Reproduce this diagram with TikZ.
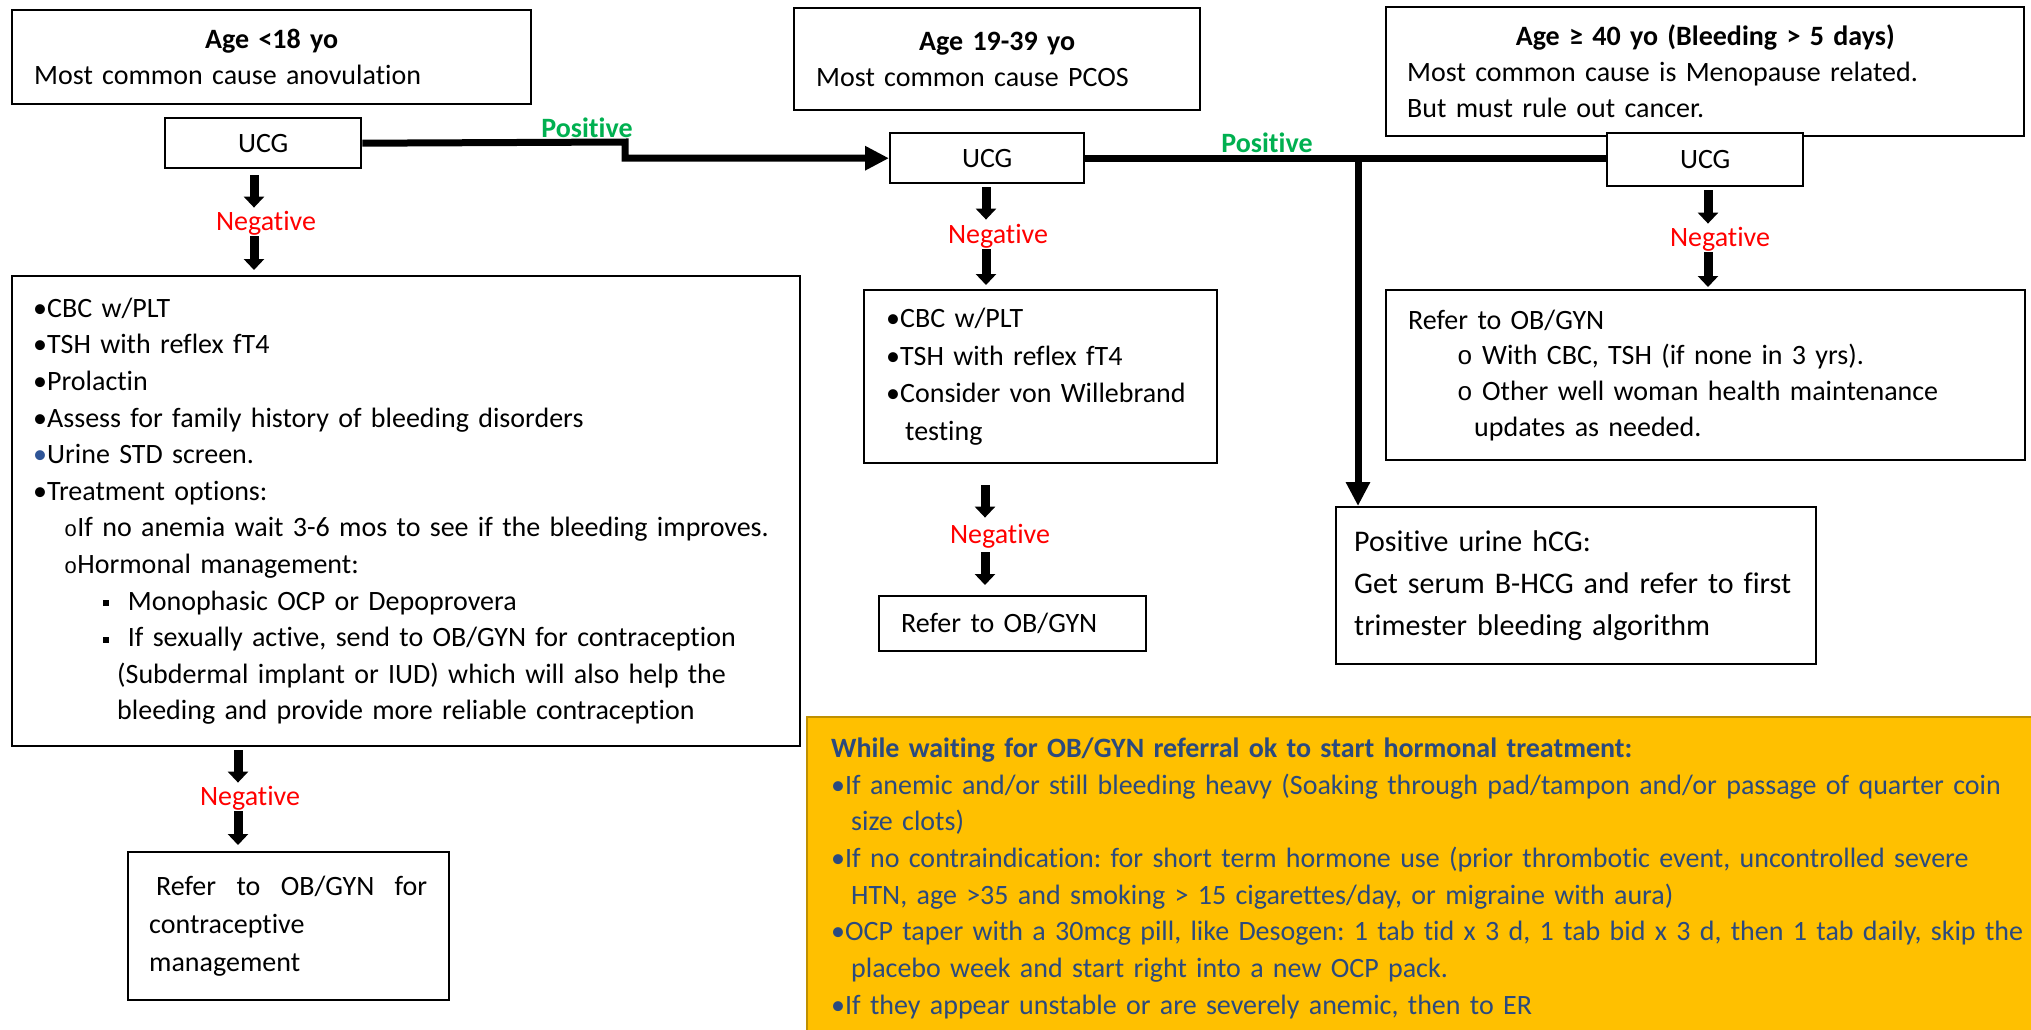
\documentclass[tikz,border=0pt]{standalone}
\usepackage{fontspec}
\setmainfont{Carlito}[Ligatures=NoCommon]
\newfontfamily\courierfont{Liberation Mono}
\usetikzlibrary{arrows.meta}
\frenchspacing

\definecolor{posgreen}{HTML}{00B050}
\definecolor{negred}{HTML}{FF0000}
\definecolor{waitgold}{HTML}{FFC000}
\definecolor{waitedge}{HTML}{BF9000}
\definecolor{waitblue}{HTML}{2B4A7E}
\definecolor{dotblue}{HTML}{2F5597}

\newcommand{\ringitem}[1]{{\courierfont\fontsize{#1}{#1}\selectfont o}}
\newcommand{\squareitem}{\rule[2pt]{3pt}{3pt}}

\begin{document}
\begin{tikzpicture}[x=0.5pt, y=-0.5pt,
    box/.style={draw, line width=1.2pt, inner sep=0pt, anchor=north west, align=left, font=\fontsize{14}{18}\selectfont},
    ucg node/.style={draw, fill=white, line width=1.2pt, anchor=north west, font=\fontsize{14}{18}\selectfont},
    neg label/.style={text=negred, inner sep=0pt, anchor=base, text height=10pt, text depth=3pt, font=\fontsize{14}{18}\selectfont},
    pos label/.style={text=posgreen, inner sep=0pt, font=\fontsize{14}{18}\selectfont\bfseries},
    neg arrow/.style={line width=4.5pt, -{Triangle[width=10pt, length=5.5pt]}},
    pos line/.style={line width=3.5pt},
    pos arrow/.style={line width=3.5pt, -{Triangle[width=11.5pt, length=12pt]}}]

    \useasboundingbox (0, 0) rectangle (2031, 1029);
    \clip (0, 0) rectangle (2031, 1029);

    \node[box, minimum width=259.5pt, minimum height=47pt, text width=237.5pt] at (11, 9) (ageA) {\hfill\textbf{Age <18 yo}\hfill\null\\ Most common cause anovulation};
    \node[box, minimum width=203pt, minimum height=51pt, text width=181pt] at (793, 7) (ageB) {\hfill\textbf{Age 19-39 yo}\hfill\null\\ Most common cause PCOS};
    \node[box, minimum width=319pt, minimum height=64.5pt, text width=298pt] at (1385, 6) (ageC) {\hfill\textbf{Age ≥ 40 yo (Bleeding > 5 days)}\hfill\null\\ Most common cause is Menopause related.\\ But must rule out cancer.};

    \node[ucg node, minimum width=98pt, minimum height=25pt] at (164, 117) (ucgA) {UCG};
    \node[ucg node, minimum width=97pt, minimum height=25pt] at (889, 132) (ucgB) {UCG};
    \node[ucg node, minimum width=98pt, minimum height=26.5pt] at (1606, 132) (ucgC) {UCG};

    \node[box, minimum width=394pt, minimum height=235pt, text width=373pt, font=\fontsize{14}{18.3}\selectfont] at (11, 275) (listA) {•CBC w/PLT\\ •TSH with reflex fT4\\ •Prolactin\\ •Assess for family history of bleeding disorders\\ {\color{dotblue}•}Urine STD screen.\\ •Treatment options:\\ \hspace*{15.5pt}\ringitem{11}If no anemia wait 3-6 mos to see if the bleeding improves.\\ \hspace*{15.5pt}\ringitem{11}Hormonal management:\\ \hspace*{35pt}\squareitem\ \ Monophasic OCP or Depoprovera\\ \hspace*{35pt}\squareitem\ \ If sexually active, send to OB/GYN for contraception\\ \hspace*{42pt}(Subdermal implant or IUD) which will also help the\\ \hspace*{42pt}bleeding and provide more reliable contraception};
    \node[box, minimum width=176.5pt, minimum height=86.5pt, text width=154.5pt, font=\fontsize{14}{18.7}\selectfont] at (863, 289) (listB) {•CBC w/PLT\\ •TSH with reflex fT4\\ •Consider von Willebrand\\ \phantom{•}\hspace{2.5pt}testing};
    \node[box, minimum width=133.5pt, minimum height=27.5pt, text width=111.5pt] at (878, 595) (referB) {Refer to OB/GYN};
    \node[box, minimum width=319.5pt, minimum height=85pt, text width=297.5pt, font=\fontsize{14}{17.8}\selectfont] at (1385, 289) (referC) {Refer to OB/GYN\\ \hspace*{24.5pt}\ringitem{13} With CBC, TSH (if none in 3 yrs).\\ \hspace*{24.5pt}\ringitem{13} Other well woman health maintenance\\ \hspace*{33pt}updates as needed.};
    \node[box, minimum width=240pt, minimum height=78.5pt, text width=222pt, font=\fontsize{15}{21}\selectfont] at (1335, 506) (pregnant) {Positive urine hCG:\\ Get serum B-HCG and refer to first\\ trimester bleeding algorithm};
    \node[box, minimum width=160.5pt, minimum height=74pt, text width=139.5pt, font=\fontsize{14}{19}\selectfont] at (127, 851) (referA) {\hspace*{3.5pt}\makebox[135.5pt][l]{Refer\hfill to\hfill OB/GYN\hfill for}\\ contraceptive\\ management};
    \node[box, draw=waitedge, fill=waitgold, text=waitblue, minimum height=161pt, text width=640pt, inner xsep=12pt, font=\fontsize{14}{18.35}\selectfont] at (806, 716) (waiting) {\textbf{While waiting for OB/GYN referral ok to start hormonal treatment:}\\ •If anemic and/or still bleeding heavy (Soaking through pad/tampon and/or passage of quarter coin\\ \phantom{•}\hspace{3pt}size clots)\\ •If no contraindication: for short term hormone use (prior thrombotic event, uncontrolled severe\\ \phantom{•}\hspace{3pt}HTN, age >35 and smoking > 15 cigarettes/day, or migraine with aura)\\ •OCP taper with a 30mcg pill, like Desogen: 1 tab tid x 3 d, 1 tab bid x 3 d, then 1 tab daily, skip the\\ \phantom{•}\hspace{3pt}placebo week and start right into a new OCP pack.\\ •If they appear unstable or are severely anemic, then to ER};

    \node[neg label] at (266, 230) (negA) {Negative};
    \node[neg label] at (998, 243) (negB) {Negative};
    \node[neg label] at (1720, 246) (negC) {Negative};
    \node[neg label] at (1000, 543) (negD) {Negative};
    \node[neg label] at (250, 805) (negE) {Negative};
    \node[pos label] at (587, 128) (posA) {Positive};
    \node[pos label] at (1267, 143) (posB) {Positive};

    \coordinate (stepAB) at (625, 142);
    \coordinate (split) at (1358, 157);
    \coordinate (colA) at (254, 0);
    \coordinate (colB) at (986, 0);
    \coordinate (colC) at (1708, 0);
    \coordinate (colD) at (985, 0);
    \coordinate (colE) at (238, 0);

    \draw[pos arrow] (ucgA.east) -- (stepAB) |- (ucgB.west);
    \path[pos line] (ucgB.east) edge (ucgC.west |- ucgB.east);
    \path[pos arrow] (split) edge (pregnant.north -| split);

    \path[neg arrow] (ucgA.south -| colA) edge[shorten <=3pt, shorten >=1pt] (negA.north -| colA);
    \path[neg arrow] (negA.south -| colA) edge[shorten >=2.5pt] (listA.north -| colA);
    \path[neg arrow] (ucgB.south -| colB) edge[shorten <=1.5pt, shorten >=1.5pt] (negB.north -| colB);
    \path[neg arrow] (negB.south -| colB) edge[shorten >=2pt] (listB.north -| colB);
    \path[neg arrow] (ucgC.south -| colC) edge[shorten <=1.5pt, shorten >=1pt] (negC.north -| colC);
    \path[neg arrow] (negC.south -| colC) edge[shorten >=1pt] (referC.north -| colC);
    \path[neg arrow] (listB.south -| colD) edge[shorten <=10.5pt, shorten >=2.5pt] (negD.north -| colD);
    \path[neg arrow] (negD.south -| colD) edge[shorten <=1.5pt, shorten >=5pt] (referB.north -| colD);
    \path[neg arrow] (listA.south -| colE) edge[shorten <=1.5pt, shorten >=1pt] (negE.north -| colE);
    \path[neg arrow] (negE.south -| colE) edge[shorten >=3pt] (referA.north -| colE);

\end{tikzpicture}
\end{document}
